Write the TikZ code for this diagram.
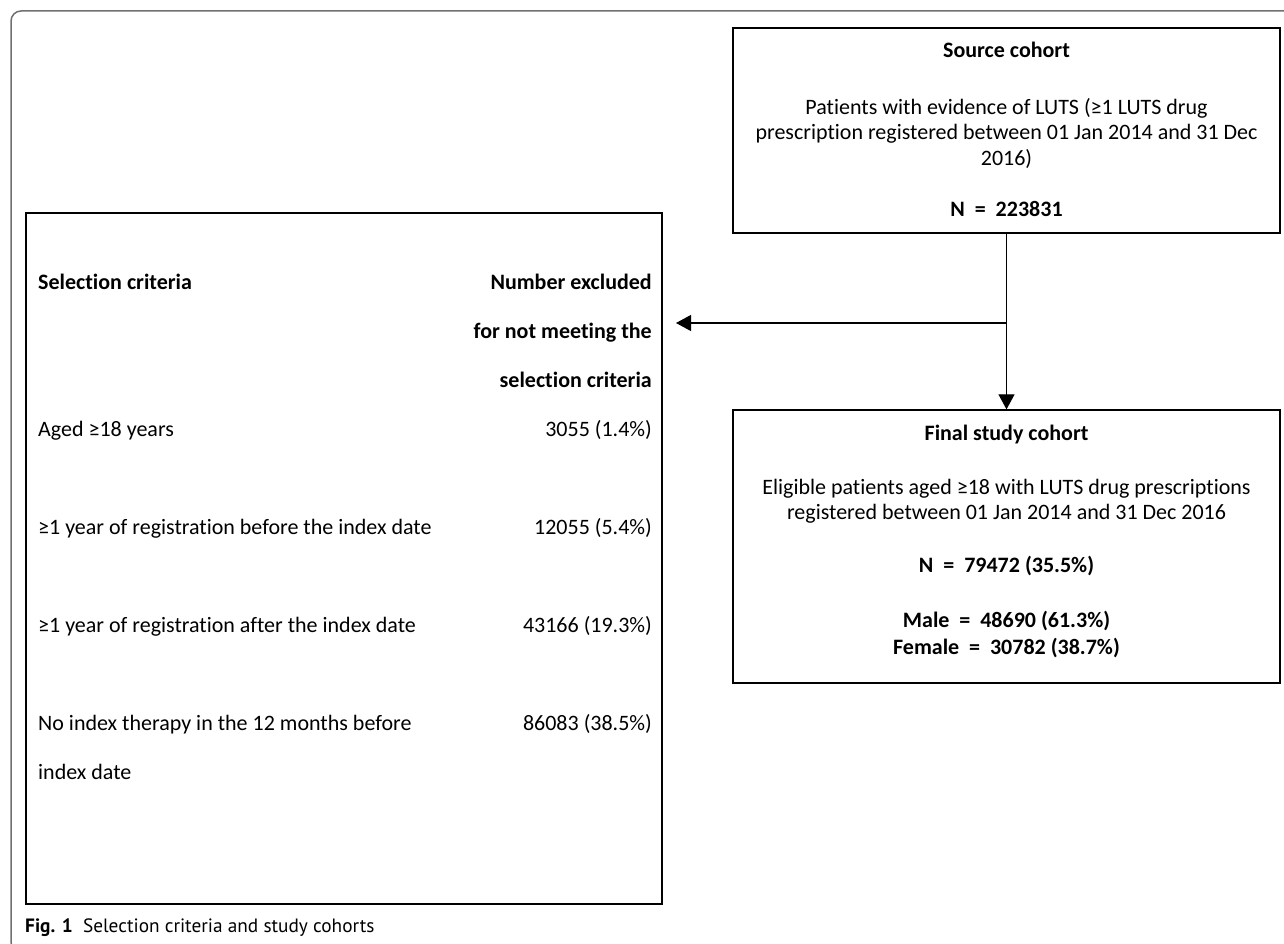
\documentclass[tikz,border=0pt]{standalone}
\usepackage{fontspec}
\setmainfont{Carlito}[Ligatures=NoCommon]
\newfontfamily\capfont{PT Sans}
\usetikzlibrary{arrows.meta,positioning}

\definecolor{framegray}{RGB}{112,112,112}
\def\rowtop{284}
\def\rowstep{49}

\begin{document}
\begin{tikzpicture}[x=1pt,y=-1pt,
  every node/.style={font=\fontsize{22}{25.5}\selectfont, inner sep=0pt},
  box/.style={draw, line width=1.3pt, minimum width=547pt},
  bigbox/.style={draw, line width=2pt, minimum width=636.5pt, minimum height=691pt},
  flow/.style={line width=1.2pt, -{Triangle[length=15pt,width=16pt]}},
  cell/.style={text height=15pt, text depth=5pt},
  lcell/.style={cell, anchor=west},
  rcell/.style={cell, anchor=east, font=\fontsize{22}{25.5}\selectfont\bfseries},
  head/.style={cell, font=\fontsize{22}{25.5}\selectfont\bfseries},
  para/.style={align=center}
]
  \useasboundingbox (0,0) rectangle (1284,944);

  % page frame
  \draw[framegray, line width=1.5pt, rounded corners=10pt]
    (1300,11) -- (11,11) -- (11,952) -- (40,952);

  % boxes
  \node[bigbox] (crit) at (343.75,558.5) {};
  \node[box, minimum height=205pt] (src) at (1006.5,130.5) {};
  \node[box, minimum height=273pt] (fin) at (1006.5,546.5) {};

  % source cohort
  \node[head] (srctitle) at (src.north |- 0,53) {Source cohort};
  \node[para] (srctext) at (src.north |- 0,133)
    {Patients with evidence of LUTS (≥1 LUTS drug\\
     prescription registered between 01 Jan 2014 and 31 Dec\\
     2016)};
  \node[head] (srcn) at (src.north |- 0,211) {N\ \ =\ \ 223831};

  % final cohort
  \node[head] (fintitle) at (fin.north |- 0,435) {Final study cohort};
  \node[para] (fintext) at (fin.north |- 0,501)
    {Eligible patients aged ≥18 with LUTS drug prescriptions\\
     registered between 01 Jan 2014 and 31 Dec 2016};
  \node[head] (finn) at (fin.north |- 0,567) {N\ \ =\ \ 79472 (35.5\%)};
  \node[para, font=\fontsize{22}{27}\selectfont\bfseries] (finsex) at (fin.north |- 0,634)
    {Male\ \ =\ \ 48690 (61.3\%)\\ Female\ \ =\ \ 30782 (38.7\%)};

  % selection criteria table
  \node[lcell, font=\fontsize{22}{25.5}\selectfont\bfseries] (crithead) at (38,\rowtop) {Selection criteria};
  \node[rcell] (exhead1) at (652,\rowtop) {Number excluded};
  \node[rcell] (exhead2) at (652,\rowtop+\rowstep) {for not meeting the};
  \node[rcell] (exhead3) at (652,\rowtop+2*\rowstep) {selection criteria};
  \foreach \k/\crit/\excl in {3/Aged ≥18 years/3055 (1.4\%),
      5/≥1 year of registration before the index date/12055 (5.4\%),
      7/≥1 year of registration after the index date/43166 (19.3\%),
      9/No index therapy in the 12 months before/86083 (38.5\%)}{
    \node[lcell] (crit\k) at (38,\rowtop+\k*\rowstep) {\crit};
    \node[cell, anchor=east] (excl\k) at (652,\rowtop+\k*\rowstep) {\excl};
  }
  \node[lcell] (crit10) at (38,\rowtop+10*\rowstep) {index date};

  % connectors
  \coordinate (split) at (src.south |- 0,323);
  \draw[flow] (src) -- (fin);
  \draw[flow, shorten >=13pt] (split) -- (crit.east |- split);

  % caption
  \node[anchor=west, font=\capfont\fontsize{19.3}{22}\selectfont] (caption) at (25,928)
    {\textbf{Fig. 1}\ \ Selection criteria and study cohorts};
\end{tikzpicture}
\end{document}
